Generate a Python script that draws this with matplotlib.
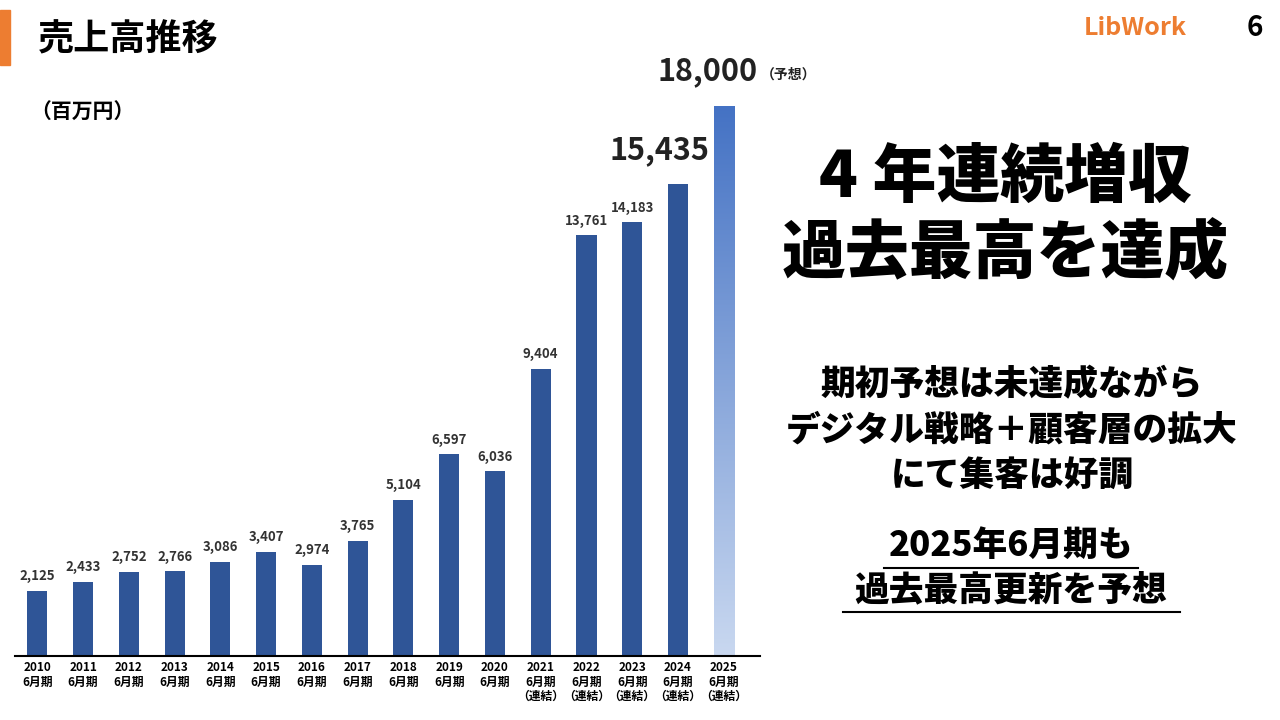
import matplotlib
matplotlib.use('Agg')
import matplotlib.pyplot as plt
import numpy as np
from matplotlib.patches import Rectangle
from matplotlib.lines import Line2D

plt.rcParams['font.family'] = ['Noto Sans CJK JP', 'DejaVu Sans']

years = ['2010', '2011', '2012', '2013', '2014', '2015', '2016', '2017',
         '2018', '2019', '2020', '2021', '2022', '2023', '2024', '2025']
suffix = ['6月期'] * 11 + ['6月期\n（連結）'] * 5
sales = [2125, 2433, 2752, 2766, 3086, 3407, 2974, 3765,
         5104, 6597, 6036, 9404, 13761, 14183, 15435, 18000]

fig = plt.figure(figsize=(12.8, 7.2), dpi=100)
ax = fig.add_axes([0.012, 0.089, 0.582, 0.764])
x = np.arange(len(sales))
bars = ax.bar(x[:-1], sales[:-1], width=0.44, color='#2F5597')
ax.set_xlim(-0.48, 15.8)
ax.set_ylim(0, 18000)

# gradient forecast bar
grad = np.linspace(1, 0, 256).reshape(-1, 1)
cmap = matplotlib.colors.LinearSegmentedColormap.from_list('g', ['#C9D8F0', '#4472C4'])
im = ax.imshow(grad, extent=[x[-1] - 0.22, x[-1] + 0.22, 0, sales[-1]],
               aspect='auto', cmap=cmap, origin='upper', zorder=2)
clip = Rectangle((x[-1] - 0.22, 0), 0.44, sales[-1], transform=ax.transData)
im.set_clip_path(clip)

for i, v in enumerate(sales[:-2]):
    ax.text(i, v + 250, f'{v:,}', ha='center', va='bottom', fontsize=9.5,
            fontweight='bold', color='#333333')
ax.text(13.6, sales[14] + 600, f'{sales[14]:,}', ha='center', va='bottom',
        fontsize=22, fontweight='bold', color='#222222')
ax.text(15.75, sales[15] + 600, f'{sales[15]:,}', ha='right', va='bottom',
        fontsize=22, fontweight='bold', color='#222222', clip_on=False)
ax.text(15.8, sales[15] + 800, '（予想）', ha='left', va='bottom',
        fontsize=10, fontweight='bold', color='#222222', clip_on=False)

ax.set_xticks(x)
ax.set_xticklabels([f'{y}\n{s}' for y, s in zip(years, suffix)],
                   fontsize=8.5, fontweight='bold', linespacing=1.1)
ax.tick_params(axis='x', length=0, pad=4)
ax.set_yticks([])
for s in ['top', 'right', 'left']:
    ax.spines[s].set_visible(False)
ax.spines['bottom'].set_linewidth(1.5)

# header
fig.patches.append(Rectangle((0, 1 - 65 / 720), 10 / 1280, 55 / 720,
                             transform=fig.transFigure, color='#ED7D31'))
fig.text(38 / 1280, 1 - 40 / 720, '売上高推移', fontsize=26, fontweight='bold',
         va='center', ha='left')
fig.text(30 / 1280, 1 - 112 / 720, '（百万円）', fontsize=15, fontweight='bold',
         va='center', ha='left')
fig.text(1135 / 1280, 1 - 28 / 720, 'LibWork', fontsize=18, fontweight='bold',
         color='#ED7D31', va='center', ha='center')
fig.text(1255 / 1280, 1 - 28 / 720, '6', fontsize=20, fontweight='bold',
         va='center', ha='center')

cx = 1005 / 1280
fig.text(cx, 1 - 178 / 720, '4 年連続増収', fontsize=46, fontweight='heavy',
         ha='center', va='center')
fig.text(cx, 1 - 255 / 720, '過去最高を達成', fontsize=46, fontweight='heavy',
         ha='center', va='center')
for yy, t in zip([385, 430, 475],
                 ['期初予想は未達成ながら', 'デジタル戦略＋顧客層の拡大', 'にて集客は好調']):
    fig.text(1012 / 1280, 1 - yy / 720, t, fontsize=25, fontweight='heavy',
             ha='center', va='center')
fig.text(1011 / 1280, 1 - 545 / 720, '2025年6月期も', fontsize=25,
         fontweight='heavy', ha='center', va='center')
fig.text(1011 / 1280, 1 - 590 / 720, '過去最高更新を予想', fontsize=25,
         fontweight='heavy', ha='center', va='center')
for x0, x1, yy in [(884, 1138, 568), (843, 1180, 612)]:
    fig.add_artist(Line2D([x0 / 1280, x1 / 1280], [1 - yy / 720] * 2,
                          color='black', lw=1.5, transform=fig.transFigure))

fig.savefig('out.png', dpi=100)
